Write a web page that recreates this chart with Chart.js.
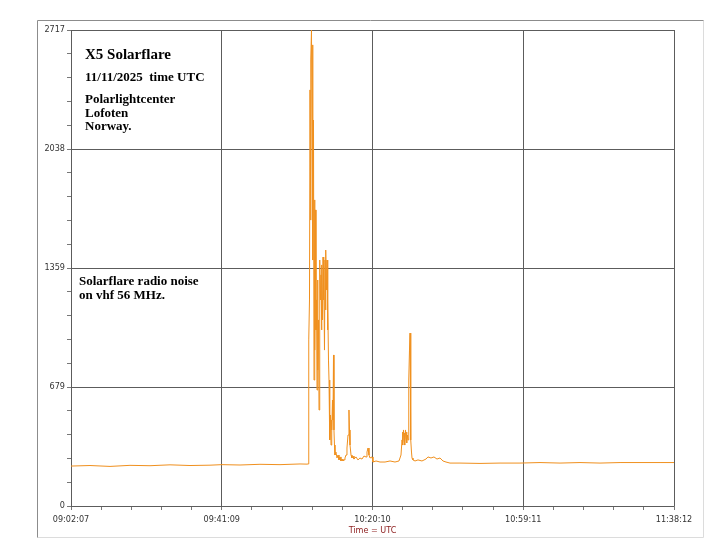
<!DOCTYPE html>
<html>
<head>
<meta charset="utf-8">
<script src="https://cdn.jsdelivr.net/npm/chart.js@4"></script>
<style>
  body { margin: 0; background: #fff; }
  #wrap { width: 720px; height: 540px; }
</style>
</head>
<body>
<div id="wrap"><canvas id="flareChart" width="720" height="540"></canvas></div>
<script>
// seconds since 09:02:07 UTC
const timeSec = [
  0, 295, 606, 916, 1227, 1538, 1848, 2159, 2345, 2625, 2935, 3246, 3557, 3665,
  3681, 3689, 3696, 3704, 3712, 3720, 3727, 3735, 3743, 3751, 3758, 3766, 3774, 3782,
  3789, 3797, 3805, 3813, 3821, 3828, 3836, 3844, 3852, 3859, 3867, 3875, 3883, 3890,
  3898, 3906, 3914, 3921, 3929, 3937, 3945, 3952, 3960, 3968, 3976, 3983, 3991, 3999,
  4007, 4014, 4022, 4030, 4038, 4046, 4053, 4061, 4069, 4077, 4084, 4092, 4100, 4115,
  4131, 4147, 4162, 4178, 4193, 4209, 4224, 4240, 4255, 4271, 4286, 4302, 4317, 4325,
  4333, 4349, 4364, 4380, 4395, 4426, 4457, 4488, 4519, 4550, 4582, 4597, 4613, 4628,
  4644, 4675, 4690, 4737, 4799, 4877, 4955, 5032, 5094, 5125, 5141, 5148, 5156, 5164,
  5172, 5179, 5187, 5195, 5203, 5210, 5218, 5226, 5234, 5242, 5249, 5257, 5265, 5273,
  5280, 5288, 5296, 5311, 5343, 5389, 5451, 5513, 5544, 5591, 5637, 5684, 5731, 5777,
  5824, 5886, 6041, 6352, 6663, 6973, 7284, 7595, 7905, 8216, 8527, 8837, 9148, 9365
];
const noiseLevel = [
  228, 231, 226, 232, 230, 235, 231, 233, 236, 234, 238, 236, 240, 239,
  240, 862, 948, 1176, 2375, 1632, 2546, 2717, 2032, 2632, 1404, 2203, 719, 1747,
  890, 1690, 1005, 1176, 662, 1290, 776, 1062, 548, 948, 1404, 1176, 1319, 1005,
  1376, 1062, 1421, 1176, 1347, 890, 1404, 1119, 1461, 1233, 1404, 1005, 1176, 833,
  719, 491, 377, 519, 348, 491, 434, 605, 491, 862, 434, 348, 291, 308,
  274, 291, 263, 280, 257, 268, 257, 263, 274, 291, 331, 405, 548, 434,
  348, 291, 274, 285, 268, 280, 263, 274, 268, 285, 280, 308, 331, 291,
  274, 280, 251, 257, 251, 251, 257, 251, 257, 291, 377, 422, 348, 434,
  377, 417, 348, 434, 388, 422, 360, 405, 377, 548, 719, 890, 987, 605,
  377, 308, 274, 263, 257, 263, 257, 268, 280, 274, 280, 268, 274, 257,
  251, 245, 245, 243, 245, 245, 248, 245, 248, 245, 248, 248, 248, 248
];
const xTickLabels = ["09:02:07", "09:41:09", "10:20:10", "10:59:11", "11:38:12"];
const yMax = 2717;
const xMax = 9365;

const narrow = "'Liberation Sans Narrow', 'DejaVu Sans Condensed', 'Liberation Sans', sans-serif";
const serif = "'Liberation Serif', 'DejaVu Serif', serif";

// 4 minor ticks between each labelled tick
function fiveSteps(scale, max) {
  const step = max / 20;
  scale.ticks = Array.from({ length: 21 }, (_, i) => ({ value: i * step }));
}

const notes = {
  id: "notes",
  beforeDraw(chart) {
    const c = chart.ctx;
    c.save();
    c.fillStyle = "#fff";
    c.fillRect(0, 0, chart.width, chart.height);
    c.lineWidth = 1;
    c.strokeStyle = "#dcdcdc";
    c.beginPath();
    c.moveTo(703.5, 20.5); c.lineTo(703.5, 537.5); c.lineTo(37.5, 537.5);
    c.stroke();
    c.strokeStyle = "#8c8c8c";
    c.beginPath();
    c.moveTo(37.5, 537.5); c.lineTo(37.5, 20.5); c.lineTo(703.5, 20.5);
    c.stroke();
    c.restore();
  },
  afterDraw(chart) {
    const c = chart.ctx;
    c.save();
    c.fillStyle = "#000";
    c.textBaseline = "alphabetic";
    c.textAlign = "left";
    c.font = "bold 15px " + serif;
    c.fillText("X5 Solarflare", 85, 59);
    c.font = "bold 13px " + serif;
    c.fillText("11/11/2025  time UTC", 85, 81);
    c.fillText("Polarlightcenter", 85, 103);
    c.fillText("Lofoten", 85, 117);
    c.fillText("Norway.", 85, 130);
    c.fillText("Solarflare radio noise", 79, 285);
    c.fillText("on vhf 56 MHz.", 79, 299);
    c.fillStyle = "#8b1a1a";
    c.textAlign = "center";
    c.font = "9px " + narrow;
    c.fillText("Time = UTC", (chart.chartArea.left + chart.chartArea.right) / 2, 533);
    c.restore();
  }
};

new Chart(document.getElementById("flareChart"), {
  type: "line",
  data: {
    datasets: [{
      label: "56 MHz",
      data: timeSec.map((t, i) => ({ x: t, y: noiseLevel[i] })),
      borderColor: "#f0901e",
      borderWidth: 1,
      pointRadius: 0,
      tension: 0,
      fill: false
    }]
  },
  options: {
    responsive: false,
    animation: false,
    layout: { padding: { left: 30, right: 46, top: 30, bottom: 0 } },
    plugins: {
      legend: { display: false },
      tooltip: { enabled: false }
    },
    scales: {
      x: {
        type: "linear",
        min: 0,
        max: xMax,
        afterBuildTicks: s => fiveSteps(s, xMax),
        afterFit: s => { s.height = 34; },
        border: { display: false },
        grid: {
          color: ctx => ctx.index % 5 === 0 ? "#5c5c5c" : "rgba(0,0,0,0)",
          tickColor: "#777",
          tickLength: 4,
          lineWidth: 1
        },
        ticks: {
          autoSkip: false,
          maxRotation: 0,
          padding: 4,
          color: "#333",
          font: { family: narrow, size: 9 },
          callback: (v, i) => i % 5 === 0 ? xTickLabels[i / 5] : ""
        }
      },
      y: {
        min: 0,
        max: yMax,
        afterBuildTicks: s => fiveSteps(s, yMax),
        afterFit: s => { s.width = 41; },
        border: { display: false },
        grid: {
          color: ctx => ctx.index % 5 === 0 ? "#5c5c5c" : "rgba(0,0,0,0)",
          tickColor: "#777",
          tickLength: 4,
          lineWidth: 1
        },
        ticks: {
          autoSkip: false,
          padding: 2,
          color: "#333",
          font: { family: narrow, size: 9 },
          callback: (v, i) => i % 5 === 0 ? String(Math.round(v)) : ""
        }
      }
    }
  },
  plugins: [notes]
});
</script>
</body>
</html>
